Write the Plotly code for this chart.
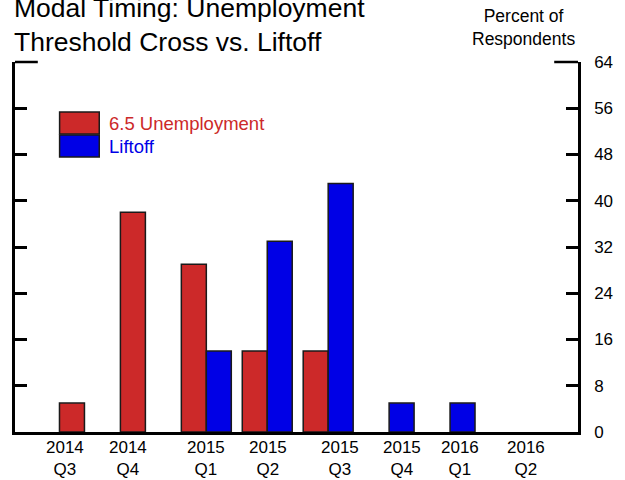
import plotly.graph_objects as go

categories = ["2014 Q3", "2014 Q4", "2015 Q1", "2015 Q2", "2015 Q3", "2015 Q4", "2016 Q1", "2016 Q2"]
unemployment = [5, 38, 29, 14, 14, 0, 0, 0]
liftoff = [0, 0, 14, 33, 43, 5, 5, 0]
series_names = ["6.5 Unemployment", "Liftoff"]
y_ticks = [0, 8, 16, 24, 32, 40, 48, 56, 64]
# small horizontal nudges of the category labels (as in the original layout)
label_nudge = [-19, -17, 0, 1, 12, 13, 10, 15]

RED = "#CC2929"
BLUE = "#0000E6"
FONT = "Liberation Sans, Arial, sans-serif"

W, H = 625, 480
L, R, T, B = 13, 44, 62, 48
pw, ph = W - L - R, H - T - B

def px_x(p):
    return (p - L) / pw

def px_y(p):
    return (H - B - p) / ph

xs = list(range(len(categories)))

def outline(vals):
    return [1.5 if v else 0 for v in vals]

fig = go.Figure()
fig.add_trace(go.Bar(x=xs, y=unemployment, name=series_names[0],
                     marker=dict(color=RED, line=dict(color="#1a1a1a", width=outline(unemployment))),
                     showlegend=False))
fig.add_trace(go.Bar(x=xs, y=liftoff, name=series_names[1],
                     marker=dict(color=BLUE, line=dict(color="#1a1a1a", width=outline(liftoff))),
                     showlegend=False))

annotations = []
for i, (cat, dx) in enumerate(zip(categories, label_nudge)):
    yr, q = cat.split(" ")
    annotations.append(dict(x=i, y=0, xref="x", yref="paper", yanchor="top",
                            text=f"{yr}<br>{q}", showarrow=False, xshift=dx, yshift=-4,
                            font=dict(family=FONT, size=17, color="black")))

# title
annotations.append(dict(x=px_x(10), y=px_y(-9), xref="paper", yref="paper",
                        xanchor="left", yanchor="top", align="left", showarrow=False,
                        text="Modal Timing: Unemployment<br>Threshold Cross vs. Liftoff",
                        font=dict(family=FONT, size=26.5, color="black")))
# axis title
annotations.append(dict(x=px_x(526), y=px_y(4), xref="paper", yref="paper",
                        xanchor="center", yanchor="top", align="center", showarrow=False,
                        text="Percent of<br>Respondents",
                        font=dict(family=FONT, size=17.5, color="black")))

# legend (drawn manually to match boxes)
shapes = []
leg_items = [(series_names[0], RED, 112, 134), (series_names[1], BLUE, 135, 157)]
for name, col, y0, y1 in leg_items:
    shapes.append(dict(type="rect", xref="paper", yref="paper",
                       x0=px_x(58), x1=px_x(98), y0=px_y(y1), y1=px_y(y0),
                       fillcolor=col, line=dict(color="#1a1a1a", width=1.5)))
    annotations.append(dict(x=px_x(106), y=px_y((y0 + y1) / 2), xref="paper", yref="paper",
                            xanchor="left", yanchor="middle", showarrow=False,
                            text=name, font=dict(family=FONT, size=18.5, color=col)))

# longer top ticks
shapes.append(dict(type="line", xref="paper", yref="paper", x0=0, x1=px_x(36), y0=1, y1=1,
                   line=dict(color="black", width=2.5)))
shapes.append(dict(type="line", xref="paper", yref="paper", x0=px_x(557), x1=1, y0=1, y1=1,
                   line=dict(color="black", width=2.5)))

fig.update_layout(
    width=W, height=H,
    margin=dict(l=L, r=R, t=T, b=B),
    paper_bgcolor="white", plot_bgcolor="white",
    barmode="group", bargap=0.18, bargroupgap=0,
    font=dict(family=FONT, color="black"),
    annotations=annotations, shapes=shapes,
    xaxis=dict(range=[-1.14, 8.1], showgrid=False, zeroline=False,
               showline=True, linecolor="black", linewidth=3,
               showticklabels=False, ticks="", fixedrange=True),
    yaxis=dict(range=[0, 64], tickvals=y_ticks, side="right", showgrid=False,
               zeroline=False, showline=True, linecolor="black", linewidth=2.5,
               mirror="ticks", ticks="inside", ticklen=12, tickwidth=2.5,
               tickcolor="black", ticklabelstandoff=10,
               tickfont=dict(family=FONT, size=17, color="black")),
)

fig.write_html("out.html", config={"displayModeBar": False},
               post_script="document.body.style.margin='0';document.body.style.overflow='hidden';")
